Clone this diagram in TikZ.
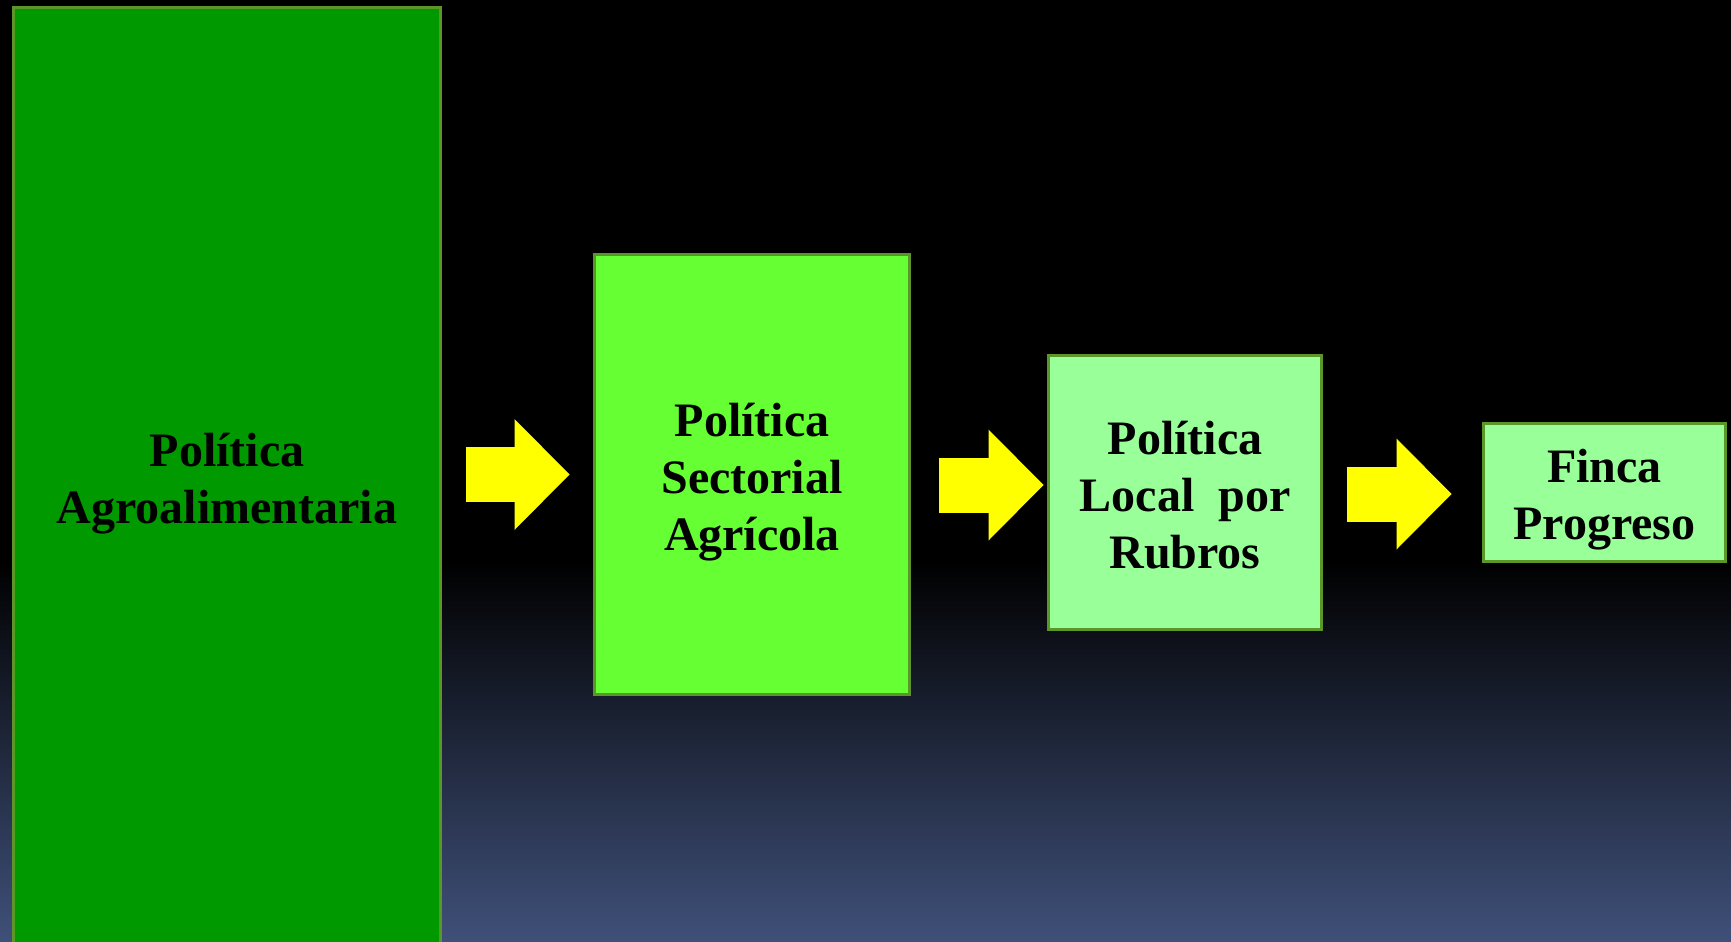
\documentclass[tikz,border=0pt]{standalone}
\usepackage{fontspec}
\setmainfont{Liberation Serif}
\usetikzlibrary{arrows.meta,calc}
\definecolor{verdeosc}{RGB}{0,153,0}
\definecolor{verdevivo}{RGB}{102,255,51}
\definecolor{verdeclaro}{RGB}{153,255,153}
\definecolor{borde}{RGB}{90,150,40}
\definecolor{fondoazul}{RGB}{63,80,121}
\definecolor{amarillo}{RGB}{255,255,0}

\begin{document}
\begin{tikzpicture}[x=0.5pt, y=-0.5pt,
    caja/.style={draw=borde, line width=1.5pt, inner sep=0pt, align=center,
      font=\fontsize{24}{28.5}\selectfont\bfseries},
    flecha/.style={draw=amarillo, line width=27.5pt,
      -{Triangle[length=27.5pt, width=55.5pt, line width=0pt, fill=amarillo]}}]
      % fondo
      \useasboundingbox (0, 0) rectangle (1731, 942);
      \fill[black] (0, 0) rectangle (1731, 561);
      \shade[top color=black, bottom color=fondoazul] (0, 560) rectangle (1731, 942);
      \node[caja, fill=verdeosc, minimum width=213.5pt, minimum height=468.5pt] (agro) at (227, 476) {\rule{0pt}{24pt}Política\\Agroalimentaria};
      \node[caja, fill=verdevivo, minimum width=157.5pt, minimum height=220pt] (sect) at (752, 474.5) {\rule{0pt}{24pt}Política\\Sectorial\\Agrícola};
      \node[caja, fill=verdeclaro, minimum width=136.5pt, minimum height=137pt] (local) at (1185, 492.5) {\rule{0pt}{19pt}Política\\Local\ \ por\\Rubros};
      \node[caja, fill=verdeclaro, minimum width=121pt, minimum height=69pt] (finca) at (1604.5, 492.5) {\rule{0pt}{24pt}Finca\\Progreso};
      \draw[flecha] ($(agro.east |- sect.west)+(23.5, 0)$) -- ($(sect.west)+(-23.5, 0)$);
      \draw[flecha] ($(sect.east |- local.west)+(27.5, -7.5)$) -- ($(local.west)+(-3.5, -7.5)$);
      \draw[flecha] ($(local.east)+(23.5, 1.5)$) -- ($(finca.west)+(-30.5, 1.5)$);
\end{tikzpicture}
\end{document}
